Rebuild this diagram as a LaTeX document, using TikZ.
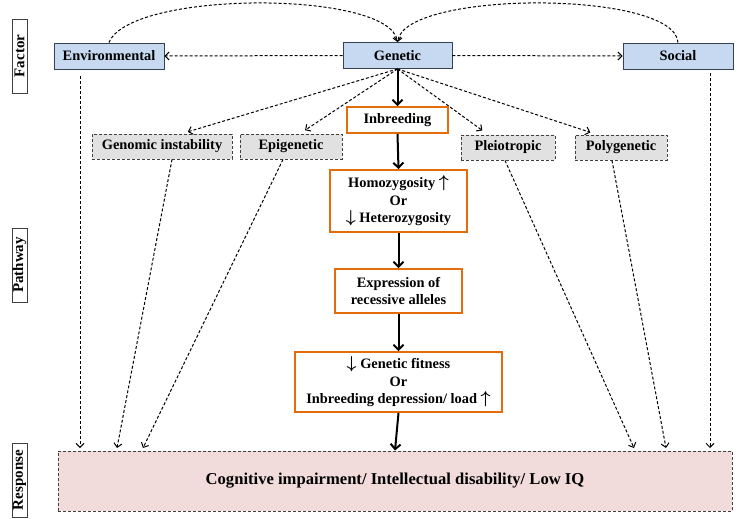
\documentclass[tikz,border=0pt]{standalone}
\usepackage{fontspec}
\setmainfont{Liberation Serif}
\usetikzlibrary{arrows,arrows.meta,shapes,backgrounds,calc}

\definecolor{factorFill}{RGB}{198,217,241}
\definecolor{factorLine}{RGB}{55,65,85}
\definecolor{pathLine}{RGB}{228,108,10}
\definecolor{sideFill}{RGB}{225,225,225}
\definecolor{respFill}{RGB}{242,220,219}

\newcommand{\upArr}{{\fontsize{17}{17}\selectfont\boldmath$\uparrow$}}
\newcommand{\downArr}{{\fontsize{17}{17}\selectfont\boldmath$\downarrow$}}

\begin{document}
\begin{tikzpicture}[x=1pt,y=-1pt,
    font=\fontsize{14.4}{17.5}\selectfont\bfseries,
    factorBox/.style={draw=factorLine,fill=factorFill,line width=0.9pt,
      minimum width=110pt,minimum height=26pt,inner sep=0pt},
    pathBox/.style={draw=pathLine,fill=white,line width=1.8pt,align=center,inner sep=0pt},
    sideBox/.style={draw=black!75,fill=sideFill,line width=0.9pt,
      dash pattern=on 3pt off 2pt,minimum height=25pt,inner sep=0pt},
    levelBox/.style={draw=black!75,fill=white,line width=0.8pt,rotate=90,
      minimum width=74pt,minimum height=15pt,inner sep=0pt,
      font=\fontsize{15}{15}\selectfont\bfseries},
    dashArrow/.style={-{Straight Barb[length=4pt,width=8pt]},line width=1pt,
      dash pattern=on 3pt off 2pt},
    mainArrow/.style={-{Straight Barb[length=5pt,width=10pt]},line width=2pt}]
    \useasboundingbox (0,0) rectangle (737,519);
    % Level labels
    \node [levelBox] (lvlFactor) at (19.5,56) {Factor};
    \node [levelBox] (lvlPathway) at (19.5,265) {Pathway};
    \node [levelBox] (lvlResponse) at (19.5,480) {Response};
    % Factors
    \node [factorBox] (env) at (109,56) {Environmental};
    \node [factorBox,minimum width=109pt] (gen) at (397.5,55.5) {Genetic};
    \node [factorBox] (soc) at (678,56) {Social};
    % Side pathways
    \node [sideBox,minimum width=140pt] (gi) at (162,146.5) {Genomic instability};
    \node [sideBox,minimum width=102pt] (epi) at (291,146.5) {Epigenetic};
    \node [sideBox,minimum width=94pt] (ple) at (508,147.5) {Pleiotropic};
    \node [sideBox,minimum width=92pt] (poly) at (621,147.5) {Polygenetic};
    % Main pathway
    \node [pathBox,minimum width=101pt,minimum height=26pt] (inb) at (397.5,120) {Inbreeding};
    \node [pathBox,minimum width=137pt,minimum height=62pt] (homo) at (398.5,201)
      {Homozygosity \upArr\\Or\\\downArr\ Heterozygosity};
    \node [pathBox,minimum width=127pt,minimum height=44pt] (expr) at (398.5,291)
      {Expression of\\recessive alleles};
    \node [pathBox,minimum width=207pt,minimum height=60pt] (fit) at (398.5,382)
      {\downArr\ Genetic fitness\\Or\\Inbreeding depression/ load \upArr};
    % Response
    \node [draw=black!75,fill=respFill,line width=0.9pt,dash pattern=on 3pt off 2pt,
      minimum width=674pt,minimum height=60pt,inner sep=0pt,
      font=\fontsize{16.6}{18}\selectfont\bfseries] (resp) at (395,481)
      {Cognitive impairment/ Intellectual disability/ Low IQ};
    \coordinate (r1) at (80,448);
    \coordinate (r2) at (117,448);
    \coordinate (r3) at (143,448);
    \coordinate (r4) at (634,448);
    \coordinate (r5) at (666,448);
    \coordinate (r6) at (710,448);
    % Factor links
    \draw [dashArrow] (env.north) .. controls (130,-10) and (390,-10) .. (gen.north);
    \draw [dashArrow] (soc.north) .. controls (675,-10) and (405,-10) .. (gen.north);
    \draw [dashArrow] (gen.west) -- (env.east);
    \draw [dashArrow] (gen.east) -- (soc.west);
    \draw [dashArrow,shorten >=6pt] (gen.south) -- ([xshift=20pt]gi.north);
    \draw [dashArrow,shorten >=6pt] (gen.south) -- ([xshift=9pt]epi.north);
    \draw [dashArrow,shorten >=7pt] (gen.south) -- ([xshift=-20pt]ple.north);
    \draw [dashArrow,shorten >=7pt] (gen.south) -- ([xshift=-24pt]poly.north);
    % Main chain
    \draw [mainArrow] (gen.south) -- (inb.north);
    \draw [mainArrow] (inb.south) -- (homo.north);
    \draw [mainArrow] (homo.south) -- (expr.north);
    \draw [mainArrow] (expr.south) -- (fit.north);
    \draw [mainArrow] (fit.south) -- (resp.north);
    % Links to response
    \draw [dashArrow] ([xshift=-29pt,yshift=-7pt]env.south) -- (r1);
    \draw [dashArrow] ([xshift=10pt]gi.south) -- (r2);
    \draw [dashArrow] ([xshift=-8pt]epi.south) -- (r3);
    \draw [dashArrow] ([xshift=-3pt]ple.south) -- (r4);
    \draw [dashArrow] ([xshift=-9pt]poly.south) -- (r5);
    \draw [dashArrow] ([xshift=32pt,yshift=-4pt]soc.south) -- (r6);
\end{tikzpicture}
\end{document}
